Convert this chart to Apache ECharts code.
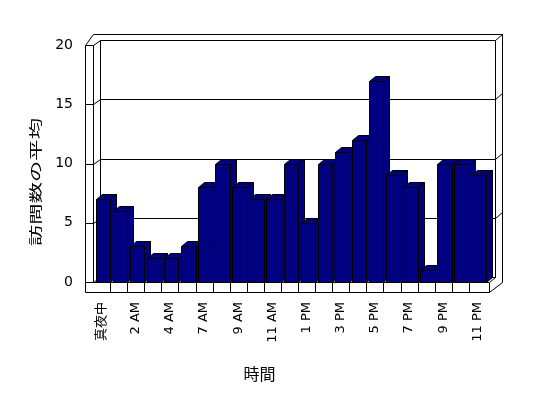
<!DOCTYPE html>
<html><head><meta charset="utf-8">
<script src="https://cdn.jsdelivr.net/npm/echarts@6/dist/echarts.min.js"></script>
<style>html,body{margin:0;padding:0;background:#fff}#c{width:548px;height:398px}</style>
</head><body><div id="c"></div>
<script>
const categories = ['真夜中','1 AM','2 AM','3 AM','4 AM','6 AM','7 AM','8 AM','9 AM','10 AM','11 AM','12 PM',
  '1 PM','2 PM','3 PM','4 PM','5 PM','6 PM','7 PM','8 PM','9 PM','10 PM','11 PM'];
const visits = [7,6,3,2,2,3,8,10,8,7,7,10,5,10,11,12,17,9,8,1,10,10,9];
const valueTicks = [0,5,10,15,20];
const xTitle = '時間';
const yTitle = '訪問数の平均';

const NAVY = '#000080';
const DX = 7, DY = -5;      // wall depth
const BX = 6, BY = -5;      // bar depth
const px = v => Math.round(v) + 0.5;
const P = pts => pts.map(p => [px(p[0]), px(p[1])]);
const lineStyle = {stroke:'#000', lineWidth:1, fill:null};

function renderFrame(params, api){
  const cs = params.coordSys;
  const gx = cs.x, gy = cs.y, gw = cs.width, gh = cs.height;
  const yb = gy + gh;
  const xl = gx - 8, xr = gx + gw + 3, fb = yb + 10;
  const bxL = gx + DX, bxR = xr + 6, outR = bxR + 7;
  const topIn = api.coord([0, valueTicks[valueTicks.length-1]])[1] + DY;
  const topOut = topIn - 6;
  const ch = [];
  const line = pts => ch.push({type:'polyline', shape:{points:P(pts)}, style:lineStyle});
  // white wall fill
  ch.push({type:'polygon', shape:{points:P([[xl,fb],[xl,gy],[gx,topOut],[outR,topOut],[outR,yb],[xr,fb]])}, style:{fill:'#fff', stroke:'#000', lineWidth:1}});
  valueTicks.forEach(v => {
    if (v === valueTicks[0] || v === valueTicks[valueTicks.length-1]) return;
    const yf = api.coord([0, v])[1];
    line([[xl,yf],[gx,yf],[bxL,yf+DY],[bxR,yf+DY],[outR,yf+DY-6]]);
  });
  line([[xl,gy],[gx,gy],[bxL,topIn],[bxR,topIn],[outR,topOut]]);
  line([[gx,gy],[gx,yb],[bxL,yb+DY],[bxR,yb+DY],[xr,yb]]);
  line([[bxL,topIn],[bxL,yb+DY]]);
  line([[bxR,topIn],[bxR,yb+DY]]);
  line([[xl,yb],[xr,yb],[xr,fb]]);
  const bw = api.size([1,0])[0];
  for (let i = 1; i < categories.length; i++) {
    const x = api.coord([i,0])[0] - bw/2;
    line([[x,yb],[x,fb]]);
  }
  return {type:'group', children:ch};
}

function renderBar(params, api){
  const i = api.value(0), v = api.value(1);
  const t = api.coord([i, v]), b = api.coord([i, 0]);
  const bw = api.size([1,0])[0];
  const r = t[0] + bw/2, l = t[0] - bw/2 + bw*0.15;
  const yt = t[1], yb = b[1];
  const st = {fill:NAVY, stroke:'#000', lineWidth:1};
  return {type:'group', children:[
    {type:'polygon', shape:{points:P([[l,yt],[r,yt],[r,yb],[l,yb]])}, style:st},
    {type:'polygon', shape:{points:P([[l,yt],[r,yt],[r+BX,yt+BY],[l+BX,yt+BY]])}, style:st},
    {type:'polygon', shape:{points:P([[r,yt],[r+BX,yt+BY],[r+BX,yb+BY],[r,yb]])}, style:st}
  ]};
}

const chart = echarts.init(document.getElementById('c'), null, {renderer:'canvas'});
chart.setOption({
  animation:false,
  backgroundColor:'#fff',
  grid:{left:93, right:62, top:45, bottom:116},
  xAxis:{type:'category', data:categories,
    axisLine:{show:false}, axisTick:{show:false}, splitLine:{show:false},
    axisLabel:{rotate:90, interval:1, margin:20, fontSize:13, color:'#000', fontFamily:'DejaVu Sans, "Noto Sans CJK JP"'},
    name:xTitle, nameLocation:'middle', nameGap:84,
    nameTextStyle:{fontSize:16, color:'#000', fontFamily:'"Noto Sans CJK JP"', padding:[0,60,0,0]}
  },
  yAxis:{type:'value', min:valueTicks[0], max:valueTicks[valueTicks.length-1], interval:5,
    axisLine:{show:false}, axisTick:{show:false}, splitLine:{show:false},
    axisLabel:{fontSize:14, margin:20, color:'#000', fontFamily:'DejaVu Sans'}
  },
  graphic:[{type:'text', x:35, y:182, rotation:Math.PI/2, scaleX:1.64,
    style:{text:yTitle, fontSize:13, fontFamily:'"Noto Sans CJK JP"', fill:'#000', align:'center', verticalAlign:'middle'}}],
  series:[
    {type:'custom', name:'frame', data:[[0,0]], renderItem:renderFrame, clip:false, silent:true, z:1},
    {type:'custom', name:'訪問数の平均', data:visits.map((v,i)=>[i,v]), renderItem:renderBar, clip:false, z:2,
      encode:{x:0, y:1}}
  ]
});
</script></body></html>
